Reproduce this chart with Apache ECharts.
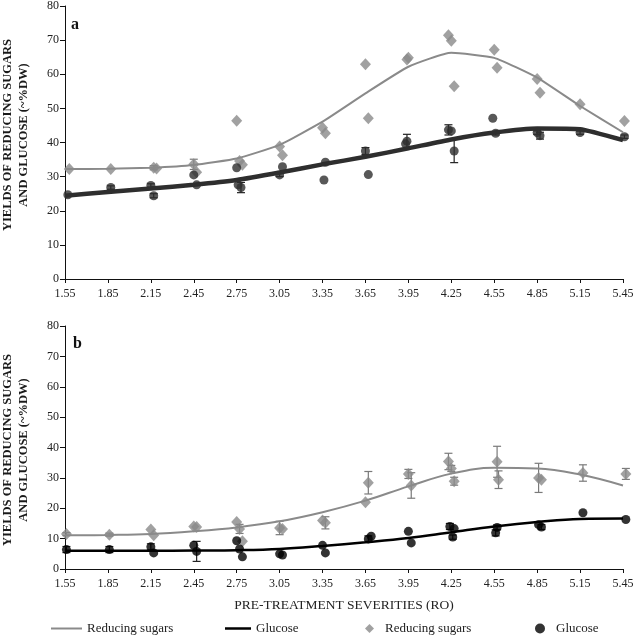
<!DOCTYPE html>
<html>
<head>
<meta charset="utf-8">
<script src="https://cdn.jsdelivr.net/npm/echarts@6/dist/echarts.min.js"></script>
<style>
  html, body { margin: 0; padding: 0; background: #fff; }
  #main { width: 638px; height: 637px; }
</style>
</head>
<body>
<div id="main"></div>
<script>
// x ticks (pre-treatment severity), fitted curves are read at these
var xTicks = [1.55, 1.85, 2.15, 2.45, 2.75, 3.05, 3.35, 3.65, 3.95, 4.25, 4.55, 4.85, 5.15, 5.45];
var yTicksMax = 80;

// panel a : points as [severity, yield, error]
var aSugarPts = [
  [1.58, 32.2, 0], [1.87, 32.2, 0], [2.17, 32.6, 0.6], [2.19, 32.4, 0],
  [2.45, 33.6, 1.5], [2.47, 31.3, 0],
  [2.75, 46.4, 0], [2.77, 34.6, 0], [2.79, 33.5, 0],
  [3.05, 38.8, 0], [3.07, 36.3, 0],
  [3.35, 44.3, 0], [3.37, 42.7, 0],
  [3.65, 62.9, 0], [3.67, 47.1, 0],
  [3.95, 64.8, 0], [3.94, 64.3, 0],
  [4.23, 71.4, 0], [4.25, 69.8, 0], [4.27, 56.5, 0],
  [4.55, 67.2, 0], [4.57, 61.9, 0],
  [4.85, 58.6, 0], [4.87, 54.6, 0],
  [5.15, 51.2, 0],
  [5.46, 46.3, 0]
];
var aGlucosePts = [
  [1.57, 24.7, 0], [1.87, 26.8, 0.5], [2.15, 27.4, 0.5], [2.17, 24.4, 0.6],
  [2.45, 30.5, 0], [2.47, 27.6, 0],
  [2.75, 32.6, 0], [2.76, 27.6, 0], [2.78, 26.8, 1.5],
  [3.05, 30.5, 0.5], [3.07, 32.9, 0],
  [3.37, 34.2, 0], [3.36, 29.0, 0],
  [3.65, 37.5, 1], [3.67, 30.6, 0],
  [3.94, 40.4, 2], [3.93, 39.6, 0],
  [4.23, 43.7, 1.5], [4.25, 43.4, 0], [4.27, 37.5, 3.4],
  [4.54, 47.1, 0], [4.56, 42.7, 0.5],
  [4.85, 42.9, 0.5], [4.87, 42.0, 1],
  [5.15, 42.9, 0.5],
  [5.46, 41.7, 0.5]
];
var aSugarFit = [32.2, 32.3, 32.6, 33.4, 35.3, 39.3, 46.1, 54.4, 62.2, 66.3, 64.8, 59.0, 50.7, 43.0];
var aGlucoseFit = [24.4, 25.5, 26.5, 27.6, 29.0, 31.2, 33.6, 35.8, 38.3, 40.9, 42.9, 44.1, 43.9, 40.7];

// panel b
var bSugarPts = [
  [1.56, 11.5, 0.5], [1.86, 11.3, 0.5], [2.15, 13.0, 0], [2.17, 11.1, 0],
  [2.45, 14.0, 0], [2.47, 13.8, 0],
  [2.75, 15.5, 0], [2.77, 13.2, 1.5], [2.79, 9.1, 0],
  [3.05, 13.5, 2.2], [3.07, 13.2, 0],
  [3.35, 16.0, 0], [3.37, 15.2, 2],
  [3.65, 22.0, 0], [3.67, 28.4, 3.7],
  [3.95, 31.3, 1.5], [3.97, 27.5, 4.2],
  [4.23, 35.4, 2.7], [4.25, 33.1, 1], [4.27, 28.9, 1.3],
  [4.57, 35.3, 5.1], [4.58, 29.4, 2.9],
  [4.86, 30.0, 4.8], [4.88, 29.4, 0],
  [5.17, 31.6, 2.7],
  [5.47, 31.3, 1.8]
];
var bGlucosePts = [
  [1.56, 6.4, 1], [1.86, 6.4, 1], [2.15, 7.3, 1], [2.17, 5.3, 0],
  [2.45, 7.8, 0], [2.47, 5.8, 3.3],
  [2.75, 9.3, 0], [2.77, 6.6, 0], [2.79, 4.0, 0],
  [3.05, 5.0, 0], [3.07, 4.6, 0],
  [3.35, 7.8, 0], [3.37, 5.3, 0],
  [3.67, 9.9, 1], [3.69, 10.8, 0],
  [3.95, 12.4, 0], [3.97, 8.6, 0],
  [4.24, 14.0, 1], [4.27, 13.3, 0], [4.26, 10.5, 0.7],
  [4.57, 13.7, 0.8], [4.56, 11.9, 1],
  [4.86, 14.6, 0], [4.88, 13.8, 0.8],
  [5.17, 18.5, 0],
  [5.47, 16.3, 0]
];
var bSugarFit = [11.1, 11.2, 11.5, 12.4, 13.7, 15.7, 18.7, 22.5, 27.2, 31.4, 33.3, 33.1, 31.1, 27.5];
var bGlucoseFit = [6.0, 6.0, 6.0, 6.1, 6.2, 6.6, 7.6, 8.8, 10.2, 12.1, 14.0, 15.5, 16.5, 16.6];

var X0 = xTicks[0], STEP = 0.3;
var serif = 'Liberation Serif';
var GRAY = '#8a8a8a';

// severity -> tick units so that the axis starts at 0 with interval 1
function toUnit(x) { return (x - X0) / STEP; }
function pts(arr) { return arr.map(function (p) { return [toUnit(p[0]), p[1], p[2]]; }); }
function fit(arr) { return arr.map(function (v, i) { return [toUnit(xTicks[i]), v]; }); }

function errBars(color) {
  return function (params, api) {
    var e = api.value(2);
    if (!e) return null;
    var x = api.value(0), y = api.value(1);
    var top = api.coord([x, y + e]);
    var bot = api.coord([x, y - e]);
    var w = 4;
    var st = { stroke: color, lineWidth: 1.2 };
    return {
      type: 'group',
      children: [
        { type: 'line', shape: { x1: top[0], y1: top[1], x2: bot[0], y2: bot[1] }, style: st },
        { type: 'line', shape: { x1: top[0] - w, y1: top[1], x2: top[0] + w, y2: top[1] }, style: st },
        { type: 'line', shape: { x1: bot[0] - w, y1: bot[1], x2: bot[0] + w, y2: bot[1] }, style: st }
      ]
    };
  };
}

function xAxisOf(gridIndex, withName) {
  return {
    type: 'value', gridIndex: gridIndex, min: 0, max: xTicks.length - 1, interval: 1,
    splitLine: { show: false },
    axisLine: { lineStyle: { color: '#111', width: 1 } },
    axisTick: { length: 4, lineStyle: { color: '#111' } },
    axisLabel: {
      color: '#222', fontFamily: serif, fontSize: 12, margin: 9,
      formatter: function (v) { return (X0 + v * STEP).toFixed(2); }
    },
    name: withName ? 'PRE-TREATMENT SEVERITIES (RO)' : '',
    nameLocation: 'middle', nameGap: 29,
    nameTextStyle: { color: '#222', fontFamily: serif, fontSize: 13.5 }
  };
}
function yAxisOf(gridIndex) {
  return {
    type: 'value', gridIndex: gridIndex, min: 0, max: yTicksMax, interval: 10,
    splitLine: { show: false },
    axisLine: { show: true, lineStyle: { color: '#111', width: 1 } },
    axisTick: { show: true, length: 5, lineStyle: { color: '#111' } },
    axisLabel: { color: '#222', fontFamily: serif, fontSize: 12, margin: 6 }
  };
}

var series = [];
function addPanel(idx, sugarPts, glucosePts, sugarFit, glucoseFit, glucoseColor, glucoseWidth) {
  series.push(
    { type: 'custom', name: 'errS' + idx, xAxisIndex: idx, yAxisIndex: idx, renderItem: errBars('#7a7a7a'),
      encode: { x: 0, y: 1 }, data: pts(sugarPts), z: 1, silent: true, clip: false },
    { type: 'custom', name: 'errG' + idx, xAxisIndex: idx, yAxisIndex: idx, renderItem: errBars('#222'),
      encode: { x: 0, y: 1 }, data: pts(glucosePts), z: 1, silent: true, clip: false },
    { type: 'scatter', name: 'Reducing sugars ', xAxisIndex: idx, yAxisIndex: idx, symbol: 'diamond',
      symbolSize: [11, 12], itemStyle: { color: GRAY }, data: pts(sugarPts), z: 2, clip: false },
    { type: 'scatter', name: 'Glucose ', xAxisIndex: idx, yAxisIndex: idx, symbol: 'circle',
      symbolSize: 9, itemStyle: { color: glucoseColor }, data: pts(glucosePts), z: 3, clip: false },
    { type: 'line', name: 'Reducing sugars', xAxisIndex: idx, yAxisIndex: idx, symbol: 'none',
      smooth: idx === 1 ? 0.4 : 0.15, lineStyle: { color: GRAY, width: 2 }, itemStyle: { color: GRAY },
      data: fit(sugarFit), z: 4 },
    { type: 'line', name: 'Glucose', xAxisIndex: idx, yAxisIndex: idx, symbol: 'none',
      smooth: idx === 1 ? 0.4 : 0.15, lineStyle: { color: glucoseColor, width: glucoseWidth },
      itemStyle: { color: '#000' }, data: fit(glucoseFit), z: 5 }
  );
}
addPanel(0, aSugarPts, aGlucosePts, aSugarFit, aGlucoseFit, '#2e2e2e', 4.5);
addPanel(1, bSugarPts, bGlucosePts, bSugarFit, bGlucoseFit, '#000', 2.5);

var legendText = { color: '#222', fontFamily: serif, fontSize: 13 };
function legendAt(left, name, icon, color, w, h, pad) {
  return {
    left: left, top: 617, itemWidth: w, itemHeight: h, itemGap: 0,
    data: [{ name: name, icon: icon, itemStyle: { color: color } }],
    textStyle: Object.assign({ padding: [0, 0, 0, pad] }, legendText), selectedMode: false,
    formatter: function (n) { return n.trim(); }
  };
}

var yName = 'YIELDS OF REDUCING SUGARS\nAND GLUCOSE (~%DW)';
function yTitle(cy) {
  return {
    type: 'text', x: 16, y: cy, rotation: Math.PI / 2,
    style: {
      text: yName, fontFamily: serif, fontWeight: 'bold', fontSize: 12.5, lineHeight: 16,
      fill: '#1a1a1a', align: 'center', verticalAlign: 'middle'
    }
  };
}

var option = {
  backgroundColor: '#fff',
  animation: false,
  grid: [
    { left: 65, right: 15, top: 6, height: 273 },
    { left: 65, right: 15, top: 326, height: 243 }
  ],
  xAxis: [xAxisOf(0, false), xAxisOf(1, true)],
  yAxis: [yAxisOf(0), yAxisOf(1)],
  legend: [
    legendAt(46, 'Reducing sugars', 'rect', GRAY, 31, 2, 0),
    legendAt(220, 'Glucose', 'rect', '#000', 26, 2.5, 0),
    legendAt(360, 'Reducing sugars ', 'diamond', GRAY, 9, 9, 6),
    legendAt(530, 'Glucose ', 'circle', '#000', 10, 10, 6)
  ],
  graphic: [
    yTitle(135),
    yTitle(450),
    { type: 'text', x: 71, y: 17, style: { text: 'a', fontFamily: serif, fontWeight: 'bold', fontSize: 16, fill: '#111' } },
    { type: 'text', x: 73, y: 336, style: { text: 'b', fontFamily: serif, fontWeight: 'bold', fontSize: 16, fill: '#111' } }
  ],
  series: series
};

var myChart = echarts.init(document.getElementById('main'));
myChart.setOption(option);
</script>
</body>
</html>
